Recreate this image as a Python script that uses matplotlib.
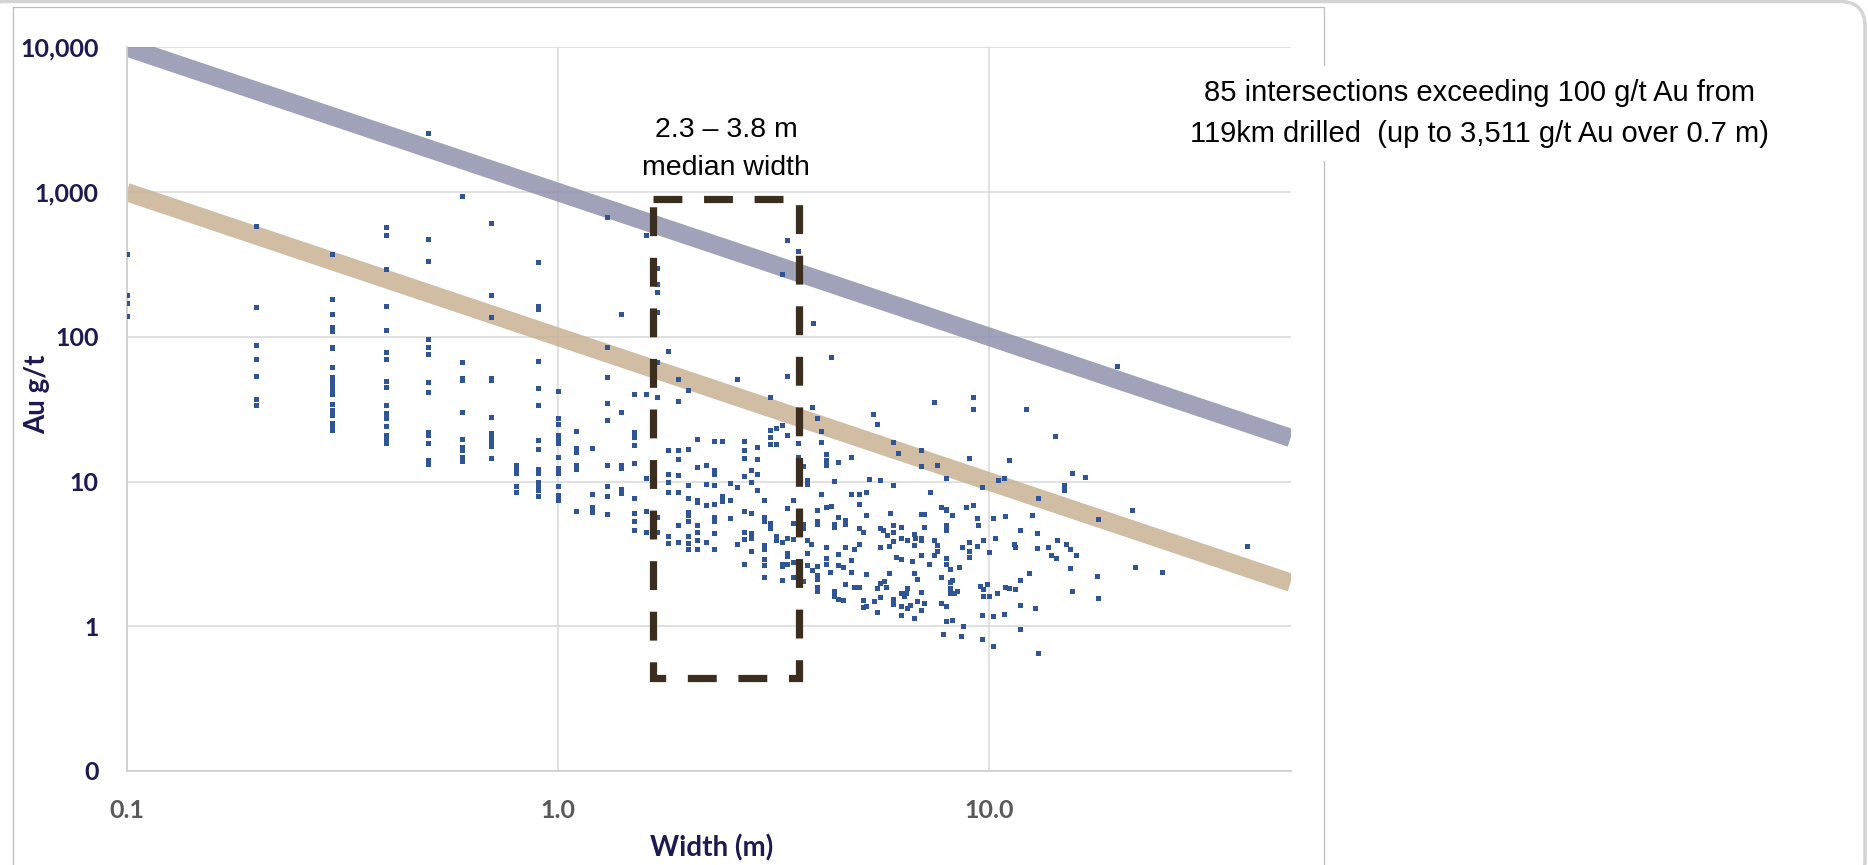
import matplotlib
matplotlib.use('Agg')
import matplotlib.pyplot as plt
from matplotlib.patches import FancyBboxPatch, Rectangle
from matplotlib.transforms import IdentityTransform

plt.rcParams['font.family'] = ['Lato', 'DejaVu Sans']

# narrow intersections: widths logged in 0.1 m steps, grades (g/t Au) per column
col_width = [0.1, 0.2, 0.3, 0.4, 0.5, 0.6, 0.7, 0.8, 0.9, 1.0, 1.1]
col_grades = [
    [372, 194, 172, 140],
    [580, 160, 87.5, 70, 54, 37, 34],
    [376, 182, 143, 116, 110, 85.5, 83, 62, 53, 49, 46, 43, 40, 34.5, 31.4, 28.7, 25.3, 24, 22.7],
    [574, 506, 293, 162, 112, 79, 70, 49.6, 44.9, 34, 29.7, 27.4, 24, 21, 19.4, 18.4],
    [2560, 474, 334, 97, 85, 76, 49, 41.4, 22.1, 21, 18.6, 14.1, 13.2],
    [940, 66.5, 52.3, 50.3, 30.3, 19.6, 17.4, 16.4, 14.7, 13.9],
    [610, 194, 137, 52.3, 50, 27.8, 21.6, 20.2, 18.9, 17.7, 14.6],
    [13.0, 12.2, 11.4, 9.3, 8.4],
    [329, 162, 155, 68.5, 44.3, 34, 19.4, 16.7, 12.2, 11.5, 10, 9.3, 8.8, 7.9],
    [42.3, 27.4, 24.9, 21, 20, 18.6, 14.8, 12.4, 11.5, 9.3, 8.1, 7.5],
    [22.5, 17, 16.1, 13, 12.2, 6.3],
]

# mid widths (1.2 - 3.6 m), (width, grade)
mid_pts = [
    (1.3, 676), (1.6, 506), (1.7, 298), (1.7, 232), (1.7, 205), (1.7, 148), (1.4, 143),
    (3.4, 467), (3.6, 394), (3.3, 270), (3.6, 125), (3.6, 115), (3.9, 125), (4.3, 72),
    (1.3, 85), (1.3, 52.6), (1.8, 80), (1.7, 67), (1.9, 51), (2.0, 43), (2.6, 51), (3.4, 54),
    (3.1, 38.6), (1.5, 40), (1.6, 40), (1.7, 38.6),
    (1.9, 35.9), (1.3, 35.1), (1.4, 30.1), (1.3, 26.5), (1.5, 22.1), (1.5, 20.4), (1.5, 18.0),
    (1.2, 17.1), (1.3, 13.0), (1.4, 13.0), (1.4, 12.4), (1.5, 13.5), (1.6, 10.6), (1.3, 9.3),
    (1.3, 7.9), (1.4, 8.9), (1.4, 8.3), (1.2, 8.2), (1.2, 6.7), (1.2, 6.2), (1.3, 6.0),
    (1.5, 7.7), (1.5, 6.05), (1.5, 5.3), (1.5, 4.6), (1.6, 6.3), (1.6, 4.5), (1.7, 5.7),
    (1.7, 4.5), (1.8, 16.4), (1.9, 16.4), (1.9, 14.3), (2.0, 16.9), (2.1, 19.6), (2.3, 19.2),
    (2.4, 19.2), (2.7, 19.2), (2.9, 17.4), (2.7, 16.4), (2.7, 14.5), (2.9, 14.3), (3.1, 22.7),
    (3.1, 20.4), (3.2, 23.6), (3.3, 24.6), (3.4, 21), (3.1, 18.1), (3.2, 18.1), (3.6, 18.4),
    (3.6, 14.8), (1.8, 11.2), (1.9, 11.1), (1.8, 10), (1.8, 8.5), (1.9, 8.4), (2.0, 9.4),
    (2.1, 12.6), (2.2, 13), (2.3, 12.0), (2.3, 11.2), (2.2, 9.6), (2.3, 9.4), (2.5, 9.8),
    (2.6, 9.2), (2.7, 10.9), (2.8, 12), (2.8, 10), (2.9, 11.2), (2.9, 8.7), (2.4, 8.0),
    (2.4, 7.3), (2.5, 7.4), (2.0, 7.7), (2.1, 7.5), (2.1, 7.2), (2.2, 6.9), (2.3, 7.0),
    (2.0, 6.2), (2.0, 5.9), (2.0, 5.3), (1.9, 5.0), (1.8, 4.2), (1.8, 3.75), (1.9, 3.8),
    (2.0, 4.2), (2.0, 3.75), (2.0, 3.4), (2.1, 5.0), (2.1, 4.5), (2.1, 3.95), (2.1, 3.4),
    (2.2, 3.8), (2.3, 5.7), (2.3, 5.3), (2.3, 4.4), (2.3, 3.4), (2.5, 5.6), (2.6, 3.7),
    (2.7, 6.3), (2.8, 6.05), (2.7, 4.5), (2.7, 4.0), (2.8, 4.4), (2.8, 4.1), (2.8, 3.3),
    (2.7, 2.7), (3.0, 7.4), (3.0, 5.7), (3.0, 5.3), (3.1, 5.2), (3.1, 4.8), (3.2, 4.2),
    (3.2, 3.95), (3.3, 3.8), (3.0, 3.65), (3.0, 3.4), (3.0, 2.9), (3.0, 2.65), (3.0, 2.2),
    (3.3, 2.7), (3.3, 2.6), (3.3, 2.1), (3.4, 4.1), (3.4, 3.2), (3.4, 3.05), (3.4, 2.7),
    (3.5, 7.5), (3.4, 6.55), (3.5, 5.2), (3.5, 4.0), (3.5, 2.8), (3.5, 2.2), (3.6, 4.9),
    (3.6, 2.35),
]

# wide intersections (> 3.6 m)
wide_pts = [
    (3.89, 32.6), (3.99, 27.5), (4.08, 22.3), (4.08, 18.8), (4.18, 15.5), (4.18, 14.1),
    (4.18, 13.0), (4.47, 13.6), (4.79, 14.7), (5.37, 29.2), (5.5, 25.1), (6.0, 18.8),
    (6.15, 15.7), (6.95, 16.5), (6.95, 12.7), (7.45, 35.5), (7.55, 13.1), (7.95, 10.5),
    (9.16, 38.3), (9.16, 31.7), (8.97, 14.5), (9.6, 9.1), (10.5, 10.3), (10.8, 10.5),
    (11.1, 14.1), (12.2, 31.9), (13.0, 7.7), (3.78, 10.2), (3.78, 9.55), (3.7, 12.8),
    (4.36, 10.1), (5.27, 10.4), (5.57, 10.3), (5.97, 9.4), (4.08, 8.23), (4.79, 8.23),
    (5.0, 8.23), (5.18, 8.5), (3.99, 6.4), (4.18, 6.65), (4.3, 6.8), (5.0, 7.0), (4.47, 5.66),
    (3.7, 5.05), (3.7, 4.74), (3.99, 5.35), (3.99, 5.05), (4.36, 5.1), (4.36, 4.86),
    (4.64, 5.4), (4.64, 5.05), (5.18, 5.85), (5.0, 4.8), (5.1, 4.45), (5.57, 4.8), (5.67, 4.6),
    (5.8, 4.3), (5.9, 6.1), (5.97, 5.0), (5.97, 4.45), (6.25, 4.85), (5.97, 3.9), (6.25, 4.1),
    (6.44, 3.95), (6.7, 4.37), (6.73, 4.1), (6.95, 6.0), (7.05, 6.0), (6.95, 4.1), (6.95, 3.94),
    (7.05, 4.86), (6.7, 3.64), (5.87, 3.6), (5.57, 3.54), (5.0, 3.7), (4.86, 3.4), (4.64, 3.5),
    (4.47, 3.15), (4.18, 3.54), (3.78, 3.92), (3.86, 3.7), (3.78, 3.19), (3.78, 2.65),
    (3.99, 2.6), (3.89, 2.45), (4.18, 2.95), (4.18, 2.7), (4.47, 2.65), (4.58, 2.58),
    (4.79, 2.87), (4.27, 2.37), (4.79, 2.37), (3.99, 2.25), (3.99, 2.12), (3.7, 2.05),
    (3.99, 1.88), (3.99, 1.74), (4.36, 1.74), (4.36, 1.63), (4.47, 1.55), (4.58, 1.52),
    (4.64, 1.97), (4.86, 1.88), (5.0, 1.87), (5.1, 1.52), (5.1, 1.35), (5.18, 1.38),
    (5.18, 2.28), (5.5, 1.84), (5.4, 1.49), (5.57, 1.99), (5.7, 2.05), (5.5, 1.26), (5.57, 1.6),
    (5.77, 1.88), (5.87, 2.33), (5.97, 1.55), (5.97, 1.42), (6.08, 3.0), (6.25, 2.9),
    (6.25, 1.69), (6.33, 1.63), (6.4, 1.7), (6.25, 1.37), (6.44, 1.33), (6.55, 1.4), (6.25, 1.2),
    (6.44, 1.83), (6.63, 2.84), (6.7, 2.32), (6.8, 2.12), (6.95, 3.1), (6.95, 1.72), (6.8, 1.49),
    (7.05, 1.45), (6.95, 1.29), (6.7, 1.14), (7.27, 2.7), (7.45, 3.12), (7.55, 3.3),
    (7.45, 3.94), (7.55, 3.66), (7.74, 6.67), (7.94, 6.5), (7.94, 6.4), (8.2, 5.85), (7.94, 5.0),
    (7.94, 4.6), (7.94, 2.95), (7.94, 2.7), (8.1, 2.5), (7.74, 2.2), (8.1, 2.03), (8.2, 2.09),
    (8.1, 1.85), (8.1, 1.71), (8.3, 1.7), (8.4, 1.75), (7.74, 1.44), (7.94, 1.38), (7.94, 1.08),
    (8.2, 1.1), (7.8, 0.89), (8.6, 0.86), (8.7, 1.0), (8.5, 2.55), (8.65, 3.5), (8.97, 3.85),
    (8.97, 3.3), (8.97, 3.0), (9.35, 3.6), (8.84, 6.7), (9.16, 6.9), (9.35, 5.6), (9.4, 5.0),
    (9.7, 3.94), (10.0, 3.25), (10.3, 4.1), (10.2, 5.6), (10.9, 5.8), (9.5, 1.9), (9.7, 1.8),
    (9.9, 1.97), (9.7, 1.63), (10.0, 1.62), (10.4, 1.7), (10.9, 1.88), (11.1, 1.84), (11.5, 1.8),
    (11.8, 2.09), (9.6, 1.2), (10.2, 1.18), (10.8, 1.22), (9.6, 0.82), (10.2, 0.73), (11.8, 1.4),
    (11.8, 0.95), (12.8, 1.33), (13.0, 0.65), (12.4, 2.35), (11.4, 3.7), (11.5, 3.5),
    (11.8, 4.6), (12.6, 5.85), (12.9, 4.4), (12.9, 3.45), (7.3, 8.4),
    (19.8, 63), (14.2, 20.6), (15.6, 11.5), (16.7, 10.7), (14.9, 9.4), (14.9, 8.8), (21.4, 6.4),
    (17.9, 5.5), (39.6, 3.6), (14.4, 3.95), (13.7, 3.5), (15.1, 3.7), (15.4, 3.4), (13.9, 3.09),
    (14.3, 2.95), (15.9, 3.09), (15.4, 2.53), (21.8, 2.58), (25.1, 2.36), (17.8, 2.24),
    (15.6, 1.75), (17.9, 1.56),
]

# trend bands (grade x width = 1000 and 100 gram-metres)
line_x = [0.1, 50]
upper_band = [10000, 20]
lower_band = [1000, 2]

# median width box
box_width = [1.66, 3.63]
box_grade = [0.44, 900]

x_ticks = [0.1, 1, 10]
x_labels = ['0.1', '1.0', '10.0']
y_ticks = [0.1, 1, 10, 100, 1000, 10000]
y_labels = ['0', '1', '10', '100', '1,000', '10,000']

navy = '#1c1a50'

# flatten points
width = []
grade = []
for w, gs in zip(col_width, col_grades):
    width += [w] * len(gs)
    grade += gs
for w, g in mid_pts + wide_pts:
    width.append(w)
    grade.append(g)

fig = plt.figure(figsize=(18.68, 8.65), dpi=100)
ax = fig.add_axes([0.0678, 0.1087, 0.6231, 0.8366])
ax.set_xscale('log')
ax.set_yscale('log')
ax.set_xlim(0.1, 50)
ax.set_ylim(0.1, 10000)

ax.set_axisbelow(True)
ax.grid(True, which='major', color='#d9d9d9', lw=1.1)
for s in ['top', 'right']:
    ax.spines[s].set_visible(False)
for s in ['left', 'bottom']:
    ax.spines[s].set_color('#d0d0d0')
    ax.spines[s].set_linewidth(1.3)

ax.plot(line_x, upper_band, color='#8e92ac', alpha=0.85, lw=13.2, solid_capstyle='butt', zorder=2)
ax.plot(line_x, lower_band, color='#c8b294', alpha=0.85, lw=13.2, solid_capstyle='butt', zorder=2)

ax.plot(width, grade, ls='none', marker='s', ms=3.6, mew=0, color='#2f5597', zorder=3)

bx = [box_width[0], box_width[1], box_width[1], box_width[0], box_width[0]]
by = [box_grade[1], box_grade[1], box_grade[0], box_grade[0], box_grade[1]]
ax.plot(bx, by, color='#3b2e1e', lw=5.2, ls=(0, (4, 3)), dash_capstyle='butt',
        dash_joinstyle='miter', zorder=4)

ax.set_xticks(x_ticks, x_labels)
ax.set_yticks(y_ticks, y_labels)
ax.minorticks_off()
ax.tick_params(length=0)
ax.tick_params(axis='y', pad=20, labelsize=18, labelcolor=navy)
ax.tick_params(axis='x', pad=20, labelsize=18, labelcolor='#595959')
for lab in ax.get_xticklabels() + ax.get_yticklabels():
    lab.set_fontweight('bold')

fig.text(0.0198, 0.5445, 'Au g/t', rotation=90, ha='center', va='center',
         fontsize=20, fontweight='bold', color=navy)
fig.text(0.381, 0.0197, 'Width (m)', ha='center', va='center',
         fontsize=20, fontweight='bold', color=navy)

# baseline of the last line
fig.text(0.3887, 0.7977, '2.3 \u2013 3.8 m\nmedian width', ha='center', va='baseline',
         fontsize=20.5, family='Liberation Sans', color='black', linespacing=1.6)
fig.text(0.792, 0.8358, '85 intersections exceeding 100 g/t Au from\n119km drilled  (up to 3,511 g/t Au over 0.7 m)',
         ha='center', va='baseline', fontsize=21, family='Liberation Sans', color='black',
         linespacing=1.6, zorder=5,
         bbox=dict(facecolor='white', edgecolor='none', pad=9))

# chart area border and slide frame
fig.patches.append(Rectangle((12.5, -10), 1311.5, 868, transform=IdentityTransform(),
                             facecolor='none', edgecolor='#bdbdbd', lw=0.9, zorder=1))
fig.patches.append(FancyBboxPatch((-20, -20), 1885, 883.5, transform=IdentityTransform(),
                                  boxstyle='round,pad=0,rounding_size=25',
                                  facecolor='none', edgecolor='#d4d4d4', lw=2.5))

fig.savefig('out.png', dpi=100)
